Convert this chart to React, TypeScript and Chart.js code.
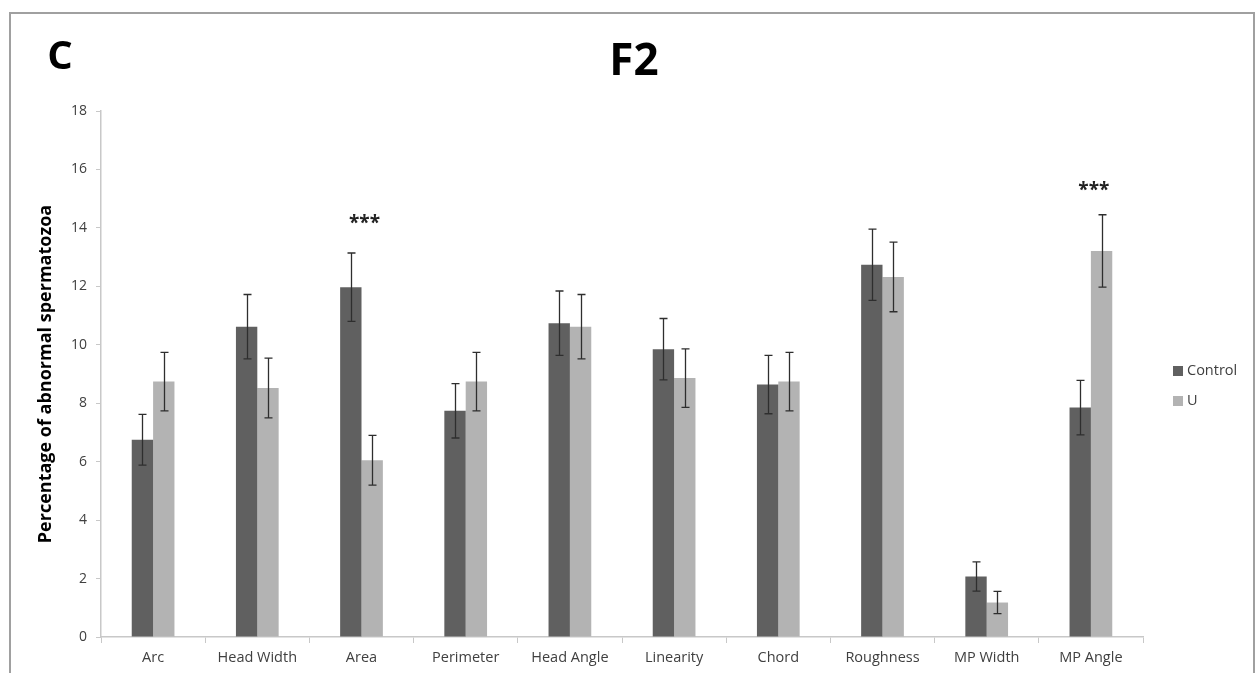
import React, { useEffect, useRef } from "react";
import { Chart, registerables } from "chart.js";

Chart.register(...registerables);

const categories = ["Arc", "Head Width", "Area", "Perimeter", "Head Angle", "Linearity", "Chord", "Roughness", "MP Width", "MP Angle"];
const controlValues = [6.75, 10.62, 11.97, 7.74, 10.74, 9.85, 8.64, 12.74, 2.07, 7.85];
const controlErrors = [0.87, 1.1, 1.17, 0.93, 1.1, 1.05, 1.0, 1.22, 0.5, 0.93];
const uValues = [8.74, 8.52, 6.05, 8.74, 10.62, 8.86, 8.74, 12.32, 1.18, 13.21];
const uErrors = [1.0, 1.02, 0.85, 1.0, 1.1, 1.0, 1.0, 1.19, 0.38, 1.24];
const significance = ["", "", "***", "", "", "", "", "", "", "***"];
const significanceLevel = [0, 0, 14.3, 0, 0, 0, 0, 0, 0, 15.4];
const seriesNames = ["Control", "U"];
const seriesColors = ["#606060", "#b3b3b3"];
const yMin = 0;
const yMax = 18;
const yStep = 2;
const chartTitle = "F2";
const panelLabel = "C";
const yAxisTitle = "Percentage of abnormal spermatozoa";

const FONT = "'Open Sans', 'Noto Sans', sans-serif";

const errorsList = [controlErrors, uErrors];
const valuesList = [controlValues, uValues];

const decorPlugin = {
  id: "decor",
  afterDatasetsDraw(chart: any) {
    const ctx = chart.ctx;
    const y = chart.scales.y;
    const x = chart.scales.x;
    ctx.save();
    chart.data.datasets.forEach((ds: any, di: number) => {
      const meta = chart.getDatasetMeta(di);
      meta.data.forEach((bar: any, i: number) => {
        const v = valuesList[di][i];
        const e = errorsList[di][i];
        const top = y.getPixelForValue(v + e);
        const bot = y.getPixelForValue(v - e);
        const cx = Math.round(bar.x) + 0.5;
        ctx.strokeStyle = "#2e2e2e";
        ctx.lineWidth = 1.3;
        ctx.beginPath();
        ctx.moveTo(cx, top);
        ctx.lineTo(cx, bot);
        ctx.moveTo(cx - 4, top);
        ctx.lineTo(cx + 4, top);
        ctx.moveTo(cx - 4, bot);
        ctx.lineTo(cx + 4, bot);
        ctx.stroke();
      });
    });
    ctx.fillStyle = "#222";
    ctx.font = `bold 19px ${FONT}`;
    ctx.textAlign = "center";
    ctx.textBaseline = "middle";
    significance.forEach((s, i) => {
      if (!s) return;
      ctx.fillText(s, x.getPixelForValue(i) + 3, y.getPixelForValue(significanceLevel[i]) + 4);
    });
    ctx.restore();
  },
  afterDraw(chart: any) {
    const ctx = chart.ctx;
    ctx.save();
    ctx.fillStyle = "#000";
    ctx.textAlign = "center";
    ctx.textBaseline = "middle";
    ctx.font = `bold 44px ${FONT}`;
    ctx.fillText(chartTitle, 634, 62);
    ctx.font = `bold 40px ${FONT}`;
    ctx.fillText(panelLabel, 60, 58);
    ctx.save();
    ctx.translate(46, (chart.chartArea.top + chart.chartArea.bottom) / 2);
    ctx.rotate(-Math.PI / 2);
    ctx.font = `bold 18px ${FONT}`;
    ctx.fillStyle = "#000";
    ctx.fillText(yAxisTitle, 0, 0);
    ctx.restore();
    ctx.font = `14.5px ${FONT}`;
    ctx.textAlign = "left";
    seriesNames.forEach((name, i) => {
      const ly = 371 + i * 30;
      ctx.fillStyle = seriesColors[i];
      ctx.fillRect(1173, ly - 5, 10, 10);
      ctx.fillStyle = "#404040";
      ctx.fillText(name, 1187, ly);
    });
    ctx.restore();
  },
};

export default function App() {
  const canvasRef = useRef<HTMLCanvasElement | null>(null);

  useEffect(() => {
    document.body.style.margin = "0";
    document.body.style.background = "#fff";
    const canvas = canvasRef.current;
    if (!canvas) return;
    const chart = new Chart(canvas, {
      type: "bar",
      data: {
        labels: categories,
        datasets: seriesNames.map((name, i) => ({
          label: name,
          data: valuesList[i],
          backgroundColor: seriesColors[i],
          borderWidth: 0,
          categoryPercentage: 0.41,
          barPercentage: 1.0,
        })),
      },
      options: {
        responsive: false,
        animation: false,
        layout: { padding: { left: 0, top: 111, right: 116, bottom: 0 } },
        plugins: {
          legend: { display: false },
          title: { display: false },
          tooltip: { enabled: false },
        },
        scales: {
          x: {
            afterFit: (s: any) => {
              s.height = 36;
            },
            grid: {
              display: true,
              drawOnChartArea: false,
              drawTicks: true,
              tickLength: 6,
              color: "#c8c8c8",
              offset: true,
            },
            border: { display: true, color: "#c8c8c8", width: 1.5 },
            ticks: {
              color: "#404040",
              font: { family: FONT, size: 14.5 },
              padding: 6,
              maxRotation: 0,
              autoSkip: false,
            },
          },
          y: {
            min: yMin,
            max: yMax,
            afterFit: (s: any) => {
              s.width = 101;
            },
            grid: {
              display: true,
              drawOnChartArea: false,
              drawTicks: true,
              tickLength: 5,
              color: "#c8c8c8",
            },
            border: { display: true, color: "#c8c8c8", width: 1.5 },
            ticks: {
              stepSize: yStep,
              color: "#404040",
              font: { family: FONT, size: 14 },
              padding: 9,
            },
          },
        },
      },
      plugins: [decorPlugin],
    });
    return () => chart.destroy();
  }, []);

  return (
    <div style={{ position: "fixed", left: 0, top: 0, width: 1259, height: 673, background: "#fff", overflow: "hidden" }}>
      <canvas ref={canvasRef} width={1259} height={673} style={{ position: "absolute", left: 0, top: 0 }} />
      <div
        style={{
          position: "absolute",
          left: 9,
          top: 12,
          width: 1246,
          height: 700,
          border: "2px solid #a0a0a0",
          boxSizing: "border-box",
          pointerEvents: "none",
        }}
      />
    </div>
  );
}
